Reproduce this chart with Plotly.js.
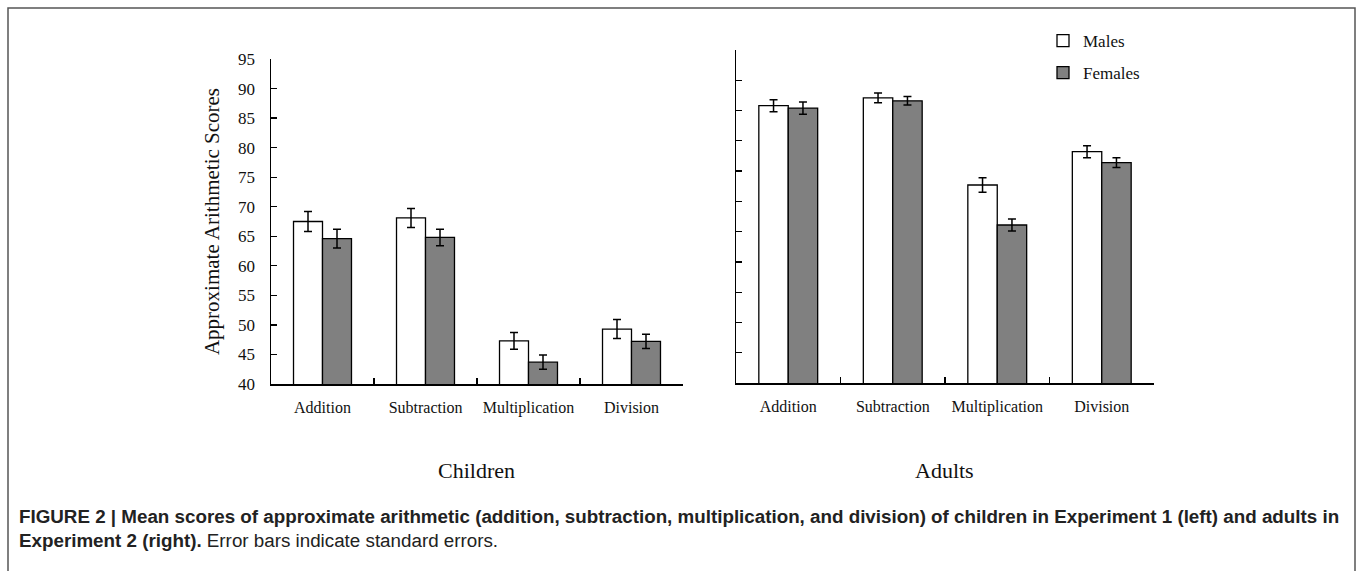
<!DOCTYPE html>
<html>
<head>
<meta charset="utf-8">
<script src="https://cdn.plot.ly/plotly-3.0.1.min.js"></script>
<style>
html, body { margin: 0; padding: 0; background: #fff; }
#chart { width: 1357px; height: 571px; }
</style>
</head>
<body>
<div id="chart"></div>
<script>
// ---- data ----
const categories = ["Addition", "Subtraction", "Multiplication", "Division"];
const childrenMales = [67.5, 68.1, 47.3, 49.3];
const childrenMalesSE = [1.7, 1.6, 1.4, 1.6];
const childrenFemales = [64.6, 64.8, 43.7, 47.2];
const childrenFemalesSE = [1.6, 1.4, 1.2, 1.2];
const adultsMales = [85.8, 87.1, 72.7, 78.2];
const adultsMalesSE = [1.0, 0.8, 1.2, 1.0];
const adultsFemales = [85.4, 86.6, 66.1, 76.4];
const adultsFemalesSE = [1.0, 0.7, 1.0, 0.8];
const groupNames = ["Males", "Females"];
const panelNames = ["Children", "Adults"];
const yAxisTitle = "Approximate Arithmetic Scores";
const captionLine1 = "<b>FIGURE 2 | Mean scores of approximate arithmetic (addition, subtraction, multiplication, and division) of children in Experiment 1 (left) and adults in</b>";
const captionLine2 = "<b>Experiment 2 (right).</b> Error bars indicate standard errors.";

// ---- styles ----
const W = 1357, H = 571;
const serif = "Liberation Serif, Times New Roman, serif";
const sans = "Liberation Sans, Arial, sans-serif";
const maleColor = "#ffffff";
const femaleColor = "#808080";
const lineBlack = { color: "#000", width: 1.3 };

function errBar(arr) {
  return { type: "data", array: arr, visible: true, color: "#000", thickness: 1.5, width: 4 };
}
function px(x) { return x / W; }
function py(y) { return 1 - y / H; }

const traces = [
  { type: "bar", name: groupNames[0], legendgroup: "m", x: categories, y: childrenMales,
    error_y: errBar(childrenMalesSE), marker: { color: maleColor, line: lineBlack },
    xaxis: "x", yaxis: "y", hoverinfo: "skip" },
  { type: "bar", name: groupNames[1], legendgroup: "f", x: categories, y: childrenFemales,
    error_y: errBar(childrenFemalesSE), marker: { color: femaleColor, line: lineBlack },
    xaxis: "x", yaxis: "y", hoverinfo: "skip" },
  { type: "bar", name: groupNames[0], legendgroup: "m", showlegend: false, x: categories, y: adultsMales,
    error_y: errBar(adultsMalesSE), marker: { color: maleColor, line: lineBlack },
    xaxis: "x2", yaxis: "y2", hoverinfo: "skip" },
  { type: "bar", name: groupNames[1], legendgroup: "f", showlegend: false, x: categories, y: adultsFemales,
    error_y: errBar(adultsFemalesSE), marker: { color: femaleColor, line: lineBlack },
    xaxis: "x2", yaxis: "y2", hoverinfo: "skip" }
];

function xAxis(domain, anchor) {
  return {
    domain: domain, anchor: anchor, type: "category",
    showline: true, linecolor: "#000", linewidth: 1.5,
    ticks: "inside", tickson: "boundaries", ticklen: 6, tickcolor: "#000", tickwidth: 1.3,
    tickfont: { family: serif, size: 16, color: "#111" },
    ticklabelstandoff: 8,
    showgrid: false, zeroline: false, fixedrange: true, automargin: false
  };
}
function yAxis(domain, anchor, showLabels, title) {
  const a = {
    domain: domain, anchor: anchor, range: [40, 95], tick0: 40, dtick: 5,
    showline: true, linecolor: "#000", linewidth: 1.5,
    ticks: "inside", ticklen: 6, tickcolor: "#000", tickwidth: 1.3,
    showticklabels: showLabels,
    tickfont: { family: serif, size: 17, color: "#111" },
    ticklabelstandoff: 11,
    showgrid: false, zeroline: false, fixedrange: true, automargin: false
  };
  if (title) a.title = { text: title, font: { family: serif, size: 21, color: "#111" }, standoff: 12 };
  return a;
}

const layout = {
  width: W, height: H,
  margin: { l: 0, r: 0, t: 0, b: 0, pad: 0 },
  paper_bgcolor: "#fff", plot_bgcolor: "rgba(0,0,0,0)",
  barmode: "group", bargap: 0.437, bargroupgap: 0,
  showlegend: true,
  legend: {
    x: px(1043), xanchor: "left", y: py(23), yanchor: "top",
    font: { family: serif, size: 17, color: "#111" },
    bgcolor: "rgba(0,0,0,0)", traceorder: "grouped", tracegroupgap: 7
  },
  xaxis: xAxis([px(271), px(683)], "y"),
  yaxis: yAxis([py(384), py(59)], "x", true, yAxisTitle),
  xaxis2: xAxis([px(736), px(1154)], "y2"),
  yaxis2: yAxis([py(383), py(50)], "x2", false, null),
  annotations: [
    { text: panelNames[0], xref: "paper", yref: "paper", x: px(476), y: py(470),
      xanchor: "center", yanchor: "middle", showarrow: false,
      font: { family: serif, size: 22, color: "#111" } },
    { text: panelNames[1], xref: "paper", yref: "paper", x: px(944), y: py(470),
      xanchor: "center", yanchor: "middle", showarrow: false,
      font: { family: serif, size: 22, color: "#111" } },
    { text: captionLine1, xref: "paper", yref: "paper", x: px(17), y: py(516),
      xanchor: "left", yanchor: "middle", showarrow: false, align: "left",
      font: { family: sans, size: 18.8, color: "#222" } },
    { text: captionLine2, xref: "paper", yref: "paper", x: px(17), y: py(540),
      xanchor: "left", yanchor: "middle", showarrow: false, align: "left",
      font: { family: sans, size: 18.8, color: "#222" } }
  ],
  shapes: [
    { type: "rect", xref: "paper", yref: "paper", x0: px(8), x1: px(1355), y0: -0.02, y1: py(8),
      line: { color: "#555", width: 1.5 }, fillcolor: "rgba(0,0,0,0)", layer: "below" }
  ]
};

Plotly.newPlot("chart", traces, layout, { staticPlot: true, displayModeBar: false });
</script>
</body>
</html>
